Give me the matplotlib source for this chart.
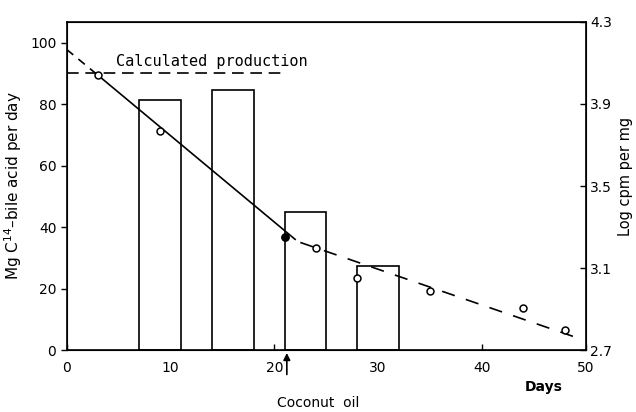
import matplotlib
matplotlib.use("Agg")
import matplotlib.pyplot as plt

# ---- data ----
bar_start = [7, 14, 21, 28]
bar_end = [11, 18, 25, 32]
bar_values = [81.5, 84.5, 45, 27.5]           # Mg C14-bile acid per day (left axis)

calc_prod_days = [0, 21]
calc_prod_value = [90, 90]                     # calculated production (left axis)

point_days = [3, 9, 21, 24, 28, 35, 44, 48]
point_logcpm = [4.04, 3.77, 3.25, 3.20, 3.05, 2.99, 2.905, 2.80]   # right axis
filled_days = [21]
filled_logcpm = [3.25]

solid_days = [3, 22]
solid_logcpm = [4.04, 3.24]
dash_pre_days = [0, 3]
dash_pre_logcpm = [4.165, 4.04]
dash_post_days = [22.5, 49.2]
dash_post_logcpm = [3.225, 2.76]

x_ticks = [0, 10, 20, 30, 40, 50]
left_ticks = [0, 20, 40, 60, 80, 100]
right_ticks = [2.7, 3.1, 3.5, 3.9, 4.3]
right_tick_labels = ["2.7", "3.1", "3.5", "3.9", "4.3"]

plt.rcParams['font.family'] = ['DejaVu Sans']
plt.rcParams['font.size'] = 10

fig = plt.figure(figsize=(6.36, 4.12), dpi=100)
ax = fig.add_axes([0.105, 0.150, 0.816, 0.797])
ax2 = ax.twinx()

# bars as open rectangles
for s, e, v in zip(bar_start, bar_end, bar_values):
    ax.bar(s, v, width=e - s, align='edge', facecolor='white', edgecolor='black', linewidth=1.2, zorder=2)

ax.plot(calc_prod_days, calc_prod_value, color='black', linestyle=(0, (7, 4)), linewidth=1.2, zorder=3)
ax.text(4.7, 94, "Calculated production", fontsize=11, va='center', ha='left',
        family='DejaVu Sans Mono')

ax.set_xlim(0, 50)
ax.set_ylim(0, 106.8)
ax.set_xticks(x_ticks)
ax.set_yticks(left_ticks)
ax.tick_params(axis='x', direction='in', length=4, width=1, pad=8)
ax.tick_params(axis='y', direction='out', length=4, width=1)
ax.set_ylabel("Mg C$^{14}$\u2013bile acid per day", labelpad=4, fontsize=11)
for sp in ax.spines.values():
    sp.set_linewidth(1.2)

ax2.set_ylim(2.7, 4.3)
ax2.set_yticks(right_ticks)
ax2.set_yticklabels(right_tick_labels)
ax2.tick_params(axis='y', direction='in', length=4, width=1, pad=3)
ax2.set_ylabel("Log cpm per mg", fontsize=10.5)
ax2.yaxis.set_label_coords(1.062, 0.53)

ax2.plot(solid_days, solid_logcpm, color='black', linewidth=1.2, zorder=4)
ax2.plot(dash_pre_days, dash_pre_logcpm, color='black', linestyle=(0, (5, 4)), linewidth=1.2, zorder=4)
ax2.plot(dash_post_days, dash_post_logcpm, color='black', linestyle=(0, (8, 7)), linewidth=1.2, zorder=4)
ax2.plot(point_days, point_logcpm, linestyle='none', marker='o', markersize=5,
         markerfacecolor='white', markeredgecolor='black', markeredgewidth=1.1, zorder=5)
ax2.plot(filled_days, filled_logcpm, linestyle='none', marker='o', markersize=5,
         markerfacecolor='black', markeredgecolor='black', zorder=6)

# Coconut oil arrow
ax.annotate("", xy=(21.2, 0), xytext=(21.2, -8.8), annotation_clip=False,
            arrowprops=dict(arrowstyle='-|>', color='black', lw=1.2, mutation_scale=10))
fig.text(318 / 636, 1 - 403 / 412, "Coconut  oil", ha='center', va='center', fontsize=10)
fig.text(544 / 636, 1 - 387 / 412, "Days", ha='center', va='center', fontsize=10, fontweight='bold')

fig.savefig("out.png", dpi=100)
